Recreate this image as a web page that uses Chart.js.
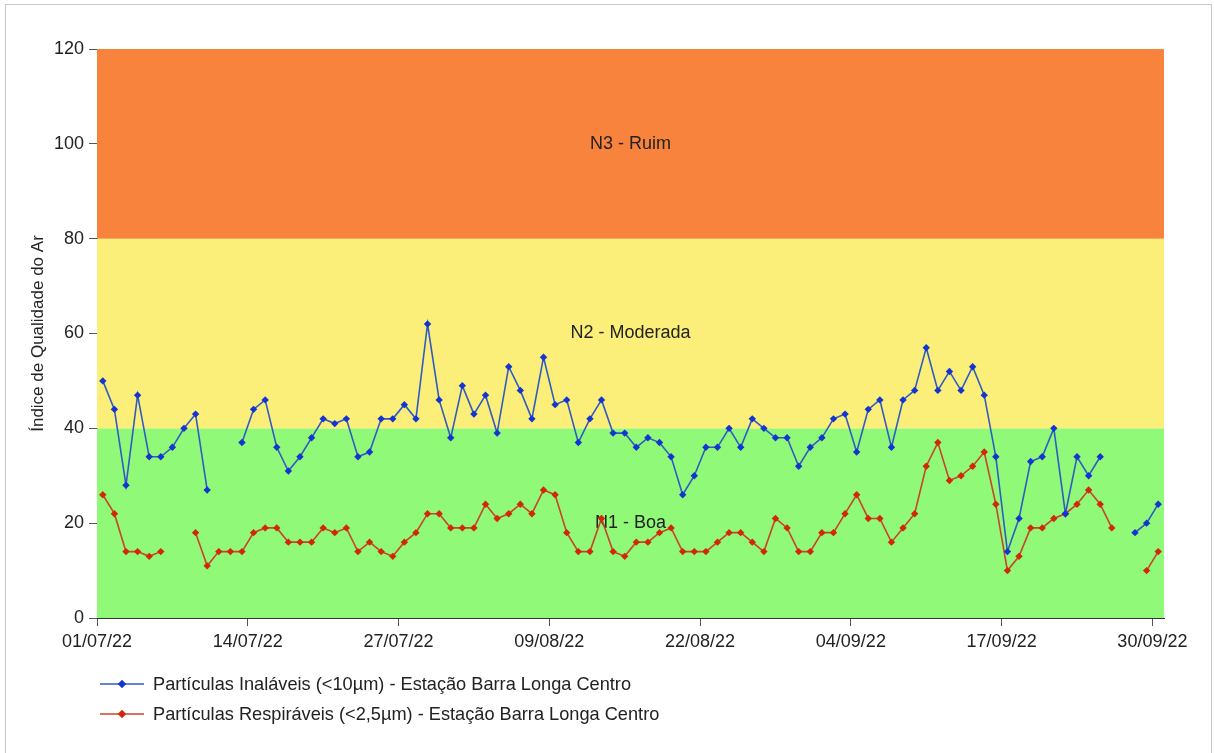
<!DOCTYPE html>
<html>
<head>
<meta charset="utf-8">
<script src="https://cdn.jsdelivr.net/npm/chart.js@4.4.1/dist/chart.umd.min.js"></script>
<style>
  html, body { margin: 0; padding: 0; background: #fff; overflow: hidden; }
  #wrap { position: relative; width: 1214px; height: 753px; }
  #chart { position: absolute; left: 0; top: 0; }
  #frame { position: absolute; left: 5px; top: 4px; width: 1205px; height: 760px; border: 1px solid #c8c8c8; pointer-events: none; }
  #legend { position: absolute; left: 100px; top: 669px; font-family: "Liberation Sans", Arial, sans-serif; font-size: 18.2px; color: #222; }
  .leg-row { display: flex; align-items: center; height: 30px; }
  .leg-row svg { margin-right: 9px; }
</style>
</head>
<body>
<div id="wrap">
  <canvas id="chart" width="1214" height="753"></canvas>
  <div id="frame"></div>
  <div id="legend"></div>
</div>
<script>
// tick positions are day offsets from 01/07/22
const tickDays = [0, 13, 26, 39, 52, 65, 78, 91];
const tickLabels = ["01/07/22", "14/07/22", "27/07/22", "09/08/22", "22/08/22", "04/09/22", "17/09/22", "30/09/22"];

// one value per day, 01/07/22 .. 30/09/22 (null = no data)
const pm10 = [
  50, 44, 28, 47, 34, 34, 36, 40, 43, 27, null, null, 37, 44, 46, 36, 31, 34, 38, 42, 41, 42, 34, 35,
  42, 42, 45, 42, 62, 46, 38, 49, 43, 47, 39, 53, 48, 42, 55, 45, 46, 37, 42, 46, 39, 39, 36, 38,
  37, 34, 26, 30, 36, 36, 40, 36, 42, 40, 38, 38, 32, 36, 38, 42, 43, 35, 44, 46, 36, 46, 48, 57,
  48, 52, 48, 53, 47, 34, 14, 21, 33, 34, 40, 22, 34, 30, 34, null, null, 18, 20, 24
];
const pm25 = [
  26, 22, 14, 14, 13, 14, null, null, 18, 11, 14, 14, 14, 18, 19, 19, 16, 16, 16, 19, 18, 19, 14, 16,
  14, 13, 16, 18, 22, 22, 19, 19, 19, 24, 21, 22, 24, 22, 27, 26, 18, 14, 14, 21, 14, 13, 16, 16,
  18, 19, 14, 14, 14, 16, 18, 18, 16, 14, 21, 19, 14, 14, 18, 18, 22, 26, 21, 21, 16, 19, 22, 32,
  37, 29, 30, 32, 35, 24, 10, 13, 19, 19, 21, 22, 24, 27, 24, 19, null, null, 10, 14
];

const seriesNames = [
  "Partículas Inaláveis (<10µm) - Estação Barra Longa Centro",
  "Partículas Respiráveis (<2,5µm) - Estação Barra Longa Centro"
];

const bandLimits = [0, 40, 80, 120];
const bandNames = ["N1 - Boa", "N2 - Moderada", "N3 - Ruim"];
const bandColors = ["#90f977", "#fbee79", "#f7833d"];

const lineColors = ["#2f5cc4", "#c8442a"];
const pointColors = ["#1535d0", "#d02808"];

const FONT = "'Liberation Sans', Arial, sans-serif";

function toPoints(values) {
  // each daily value sits at the middle of its day
  return values.map((v, i) => ({ x: i + 0.5, y: v }));
}

const bandsPlugin = {
  id: "bands",
  beforeDatasetsDraw(chart) {
    const { ctx, chartArea: a, scales: { y } } = chart;
    ctx.save();
    for (let i = 0; i < bandNames.length; i++) {
      const top = y.getPixelForValue(bandLimits[i + 1]);
      const bottom = y.getPixelForValue(bandLimits[i]);
      ctx.fillStyle = bandColors[i];
      ctx.fillRect(a.left, top, a.right - a.left, bottom - top);
    }
    ctx.fillStyle = "#222";
    ctx.font = "18px " + FONT;
    ctx.textAlign = "center";
    ctx.textBaseline = "middle";
    for (let i = 0; i < bandNames.length; i++) {
      const mid = (bandLimits[i] + bandLimits[i + 1]) / 2;
      ctx.fillText(bandNames[i], (a.left + a.right) / 2, y.getPixelForValue(mid));
    }
    ctx.restore();
  }
};

const datasets = [pm10, pm25].map((values, i) => ({
  label: seriesNames[i],
  data: toPoints(values),
  borderColor: lineColors[i],
  borderWidth: 1.6,
  pointStyle: "rectRot",
  pointRadius: 3.7,
  pointBorderWidth: 0,
  pointBackgroundColor: pointColors[i],
  spanGaps: false,
  tension: 0
}));

new Chart(document.getElementById("chart"), {
  type: "line",
  data: { datasets },
  options: {
    responsive: false,
    animation: false,
    devicePixelRatio: 1,
    layout: { padding: { left: 28, top: 49, right: 50, bottom: 95 } },
    plugins: { legend: { display: false }, tooltip: { enabled: false } },
    scales: {
      x: {
        type: "linear",
        min: 0,
        max: 92,
        afterBuildTicks: s => { s.ticks = tickDays.map(v => ({ value: v })); },
        afterFit: s => { s.height = 40; },
        ticks: {
          autoSkip: false,
          maxRotation: 0,
          padding: 5,
          color: "#222",
          font: { family: FONT, size: 18 },
          callback: v => tickLabels[tickDays.indexOf(v)]
        },
        grid: { drawOnChartArea: false, tickLength: 8, color: "#555" },
        border: { color: "#333", width: 1 }
      },
      y: {
        min: 0,
        max: 120,
        afterFit: s => { s.width = 69; },
        ticks: {
          stepSize: 20,
          padding: 5,
          color: "#222",
          font: { family: FONT, size: 18 }
        },
        grid: { drawOnChartArea: false, tickLength: 8, color: "#555" },
        border: { color: "#333", width: 1 },
        title: {
          display: true,
          text: "Índice de Qualidade do Ar",
          color: "#222",
          font: { family: FONT, size: 17 },
          padding: { top: 0, bottom: 0 }
        }
      }
    }
  },
  plugins: [bandsPlugin]
});

// html legend
const legend = document.getElementById("legend");
legend.innerHTML = seriesNames.map((name, i) => `
  <div class="leg-row">
    <svg width="44" height="10">
      <line x1="0" y1="5" x2="44" y2="5" stroke="${lineColors[i]}" stroke-width="1.5"/>
      <rect x="19" y="2" width="6" height="6" fill="${pointColors[i]}" transform="rotate(45 22 5)"/>
    </svg>
    <span>${name}</span>
  </div>`).join("");
</script>
</body>
</html>
